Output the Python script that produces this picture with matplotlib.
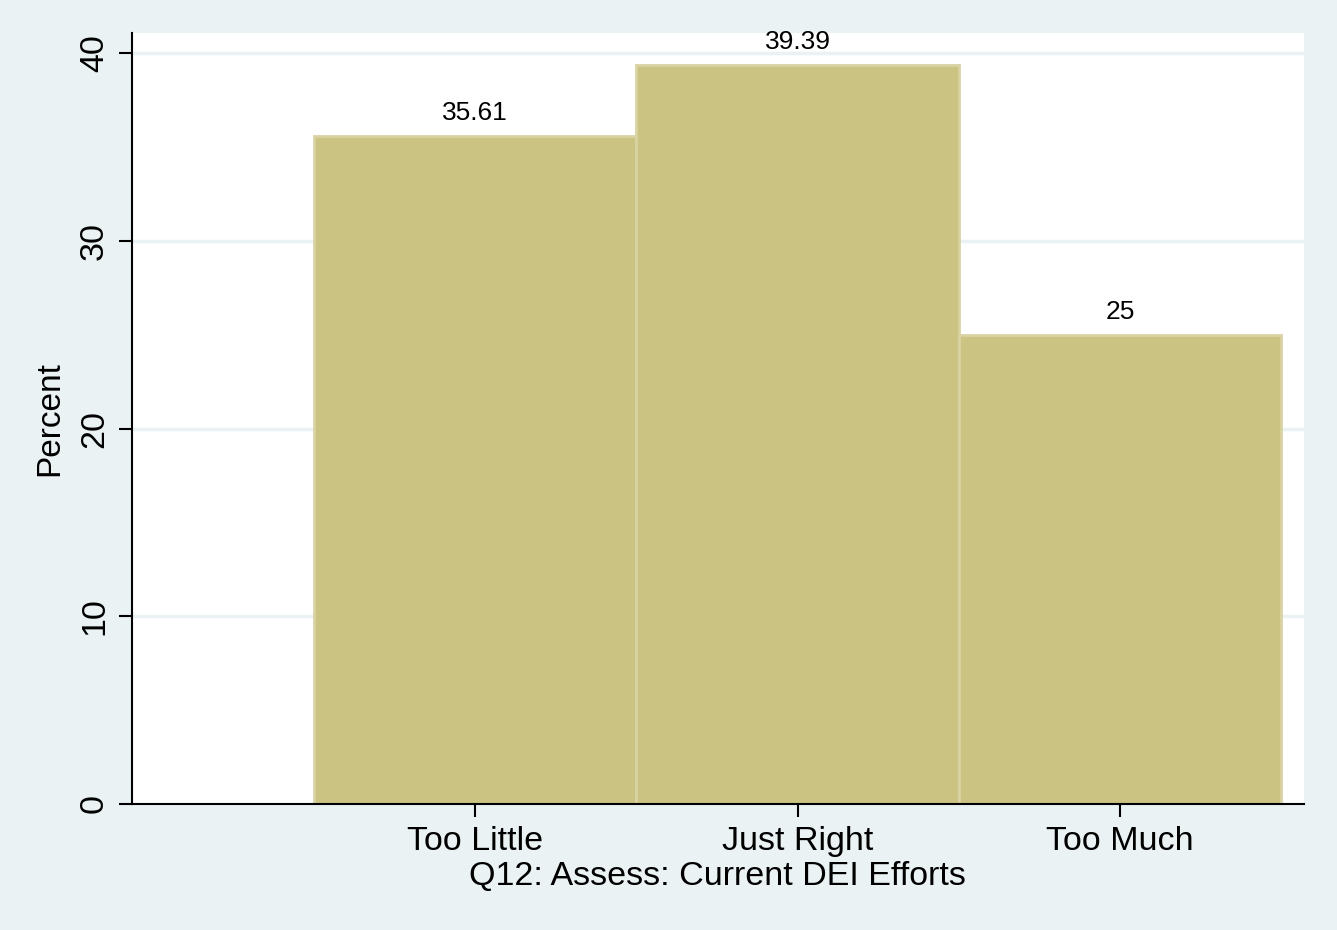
import matplotlib
matplotlib.use("Agg")
import matplotlib.pyplot as plt

categories = ["Too Little", "Just Right", "Too Much"]
positions = [1, 2, 3]
percents = [35.61, 39.39, 25.0]
bar_labels = ["35.61", "39.39", "25"]
y_ticks = [0, 10, 20, 30, 40]

BG = "#EAF2F3"
BAR = "#CBC382"
BAR_EDGE = "#D9D3A4"

plt.rcParams["font.family"] = ["Liberation Sans", "DejaVu Sans"]

fig = plt.figure(figsize=(13.37, 9.3), dpi=100, facecolor=BG)
ax = fig.add_axes([0.0984, 0.1355, 0.9753 - 0.0984, 0.9645 - 0.1355])
ax.set_facecolor("white")

ax.bar(positions, percents, width=1.0, color=BAR, edgecolor=BAR_EDGE,
       linewidth=2, zorder=2)
for x, v, lab in zip(positions, percents, bar_labels):
    ax.annotate(lab, (x, v), xytext=(0, 8), textcoords="offset points",
                ha="center", va="bottom", fontsize=19)

ax.set_xlim(-0.065, 3.57)
ax.set_ylim(0, 41.08)
ax.set_yticks(y_ticks)
ax.set_yticklabels([str(t) for t in y_ticks], rotation=90, va="center")
ax.set_xticks(positions)
ax.set_xticklabels(categories)
for t in y_ticks[1:]:
    ax.axhline(t, color=BG, linewidth=2.5, zorder=1)

for s in ["top", "right"]:
    ax.spines[s].set_visible(False)
for s in ["left", "bottom"]:
    ax.spines[s].set_linewidth(1.5)
    ax.spines[s].set_color("black")
ax.tick_params(axis="both", length=9.5, width=1.5, labelsize=24.5, pad=6)

ax.set_ylabel("Percent", fontsize=24, labelpad=10)
ax.set_xlabel("Q12: Assess: Current DEI Efforts", fontsize=24.5, labelpad=3.5)

fig.savefig("out.png", dpi=100, facecolor=BG)
